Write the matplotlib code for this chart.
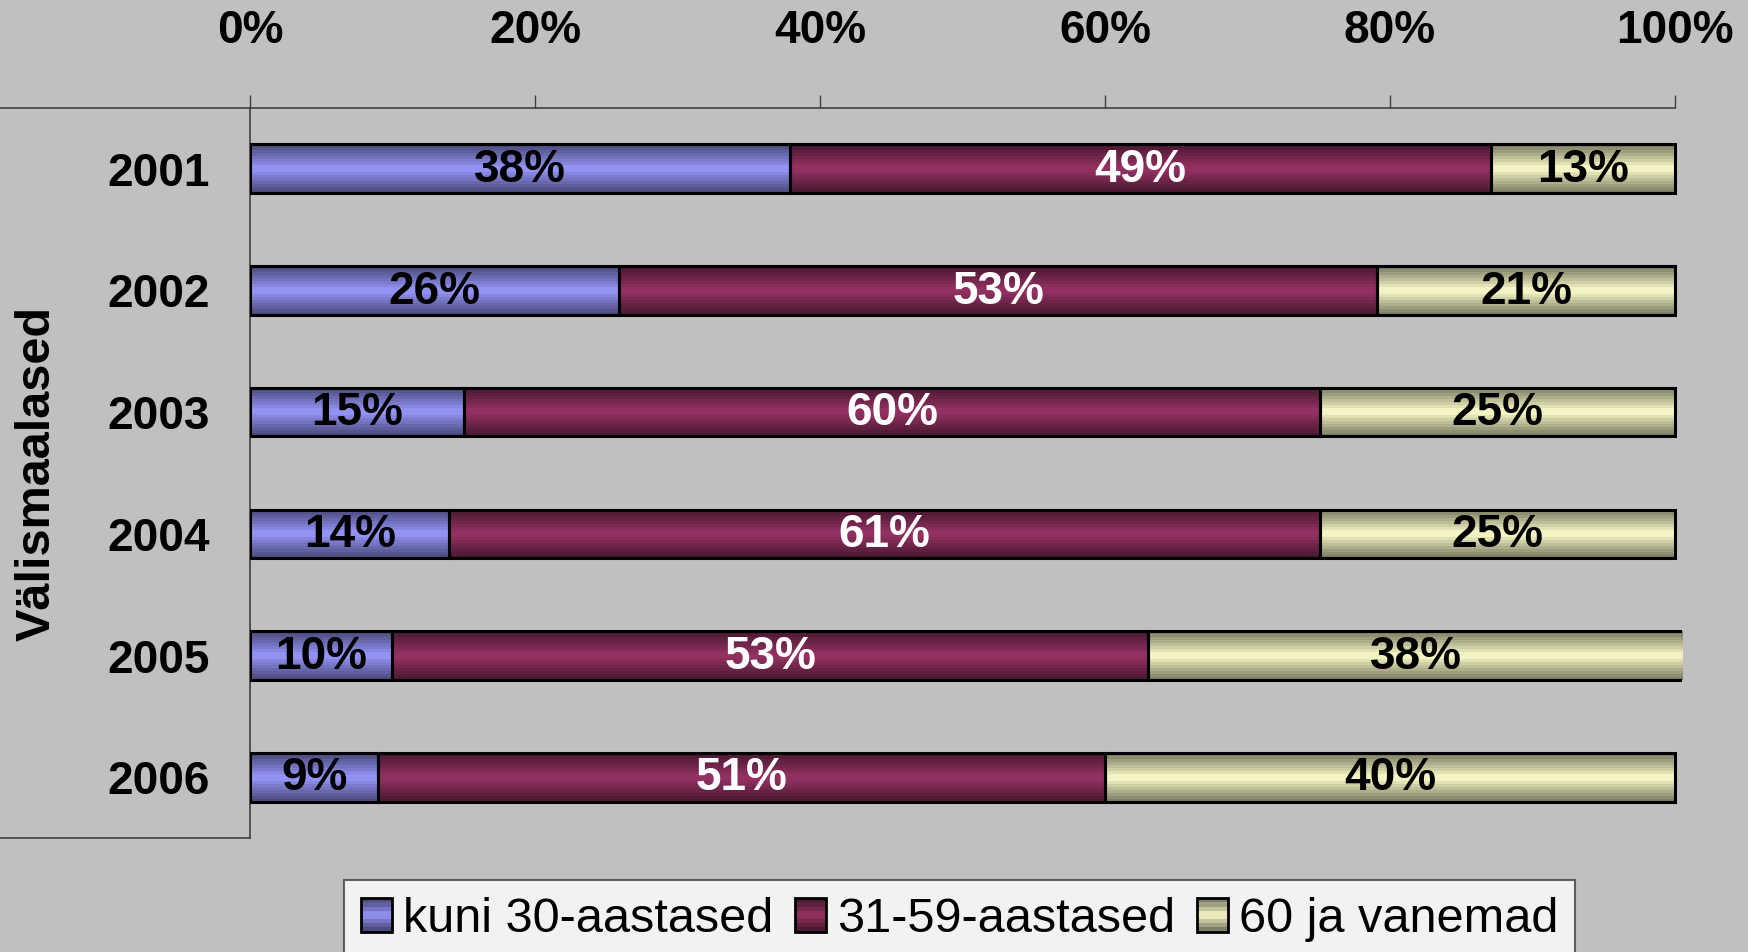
import numpy as np
import matplotlib.pyplot as plt
from matplotlib.patches import Rectangle
from matplotlib.lines import Line2D
from matplotlib.legend_handler import HandlerBase

# data (percent)
years = ['2001', '2002', '2003', '2004', '2005', '2006']
kuni30 = [37.9, 25.9, 15.0, 14.0, 10.0, 9.0]
vahemik = [49.2, 53.2, 60.1, 61.1, 53.0, 51.0]
vanemad = [12.9, 20.9, 24.9, 24.9, 37.6, 40.0]
series_names = ['kuni 30-aastased', '31-59-aastased', '60 ja vanemad']
xticks = [0, 20, 40, 60, 80, 100]

colors = ['#9999FF', '#993366', '#FFFFCC']
label_colors = ['black', 'white', 'black']
bg = '#C0C0C0'
axis_col = '#404040'

plt.rcParams['font.family'] = ['Liberation Sans', 'DejaVu Sans']


def shade_profile(n=16):
    # dark at top/bottom edge, full colour in the middle
    t = np.linspace(-1, 1, n)
    return 1 - 0.5 * np.abs(t) ** 0.9


def gradient_rgb(color, n=16):
    rgb = np.array(plt.matplotlib.colors.to_rgb(color))
    f = shade_profile(n)[:, None]
    return (rgb[None, :] * f)[:, None, :]


class GradHandler(HandlerBase):
    def create_artists(self, legend, orig_handle, xdescent, ydescent,
                       width, height, fontsize, trans):
        grad = gradient_rgb(orig_handle.get_facecolor(), 8)[:, 0, :]
        arts = []
        n = len(grad)
        for i, c in enumerate(grad):
            arts.append(Rectangle((-xdescent, -ydescent + i * height / n), width,
                                  height / n, facecolor=c, edgecolor='none',
                                  transform=trans))
        arts.append(Rectangle((-xdescent, -ydescent), width, height, fill=False,
                              edgecolor='black', lw=2, transform=trans))
        return arts


fig = plt.figure(figsize=(17.48, 9.52), dpi=100, facecolor=bg)
ax = fig.add_axes([0.1430, 0.1197, 0.8152, 0.7669])
ax.set_facecolor(bg)

y = np.arange(len(years))
h = 0.40
clip = Rectangle((0, 0), 1.005, 1, transform=ax.transAxes)

left = np.zeros(len(years))
handles = []
for vals, col, lcol, name in zip([kuni30, vahemik, vanemad], colors,
                                 label_colors, series_names):
    vals = np.array(vals)
    bars = ax.barh(y, vals, left=left, height=h, facecolor='none',
                   edgecolor='black', lw=2.2, zorder=3)
    for b in bars:
        b.set_clip_path(clip)
        x0, y0 = b.get_x(), b.get_y()
        im = ax.imshow(gradient_rgb(col), extent=(x0, x0 + b.get_width(), y0 + h, y0),
                       aspect='auto', interpolation='nearest', zorder=2)
        im.set_clip_path(clip)
    for yi, l, v in zip(y, left, vals):
        ax.text(l + v / 2, yi + 0.01, f'{v:.0f}%', ha='center', va='center',
                fontsize=33, fontweight='bold', color=lcol, zorder=4)
    handles.append(Rectangle((0, 0), 1, 1, facecolor=col, label=name))
    left = left + vals

ax.set_xlim(0, 100)
ax.set_ylim(len(years) - 0.5, -0.5)

for s in ['top', 'right', 'bottom']:
    ax.spines[s].set_visible(False)
ax.spines['left'].set_color(axis_col)
ax.spines['left'].set_linewidth(1.2)

ax.xaxis.tick_top()
ax.set_xticks(xticks)
ax.set_xticklabels([f'{t}%' for t in xticks], fontsize=33, fontweight='bold')
ax.tick_params(axis='x', length=9.5, width=1, color=axis_col, pad=30)
ax.set_yticks(y)
ax.set_yticklabels(years, fontsize=33, fontweight='bold')
ax.tick_params(axis='y', length=0, pad=29)

# frame lines of the category / value axes
pos = ax.get_position()
fig.add_artist(Line2D([0, pos.x1], [pos.y1, pos.y1], color=axis_col, lw=1.2))
fig.add_artist(Line2D([0, pos.x0], [pos.y0, pos.y0], color=axis_col, lw=1.2))

fig.text(0.021, (pos.y0 + pos.y1) / 2, 'Välismaalased', rotation=90,
         ha='center', va='center', fontsize=35, fontweight='bold')

leg = fig.legend(handles=handles, loc='upper left', ncol=3,
                 bbox_to_anchor=(344 / 1748, 1 - 880 / 952), borderaxespad=0,
                 fontsize=35, handler_map={Rectangle: GradHandler()},
                 handlelength=0.64, handleheight=0.68, handletextpad=0.22,
                 columnspacing=0.45, borderpad=0.35, frameon=True, fancybox=False)
leg.get_frame().set_facecolor('white')
leg.get_frame().set_edgecolor(axis_col)
leg.get_frame().set_linewidth(1.5)

fig.savefig('out.png', dpi=100, facecolor=bg)
